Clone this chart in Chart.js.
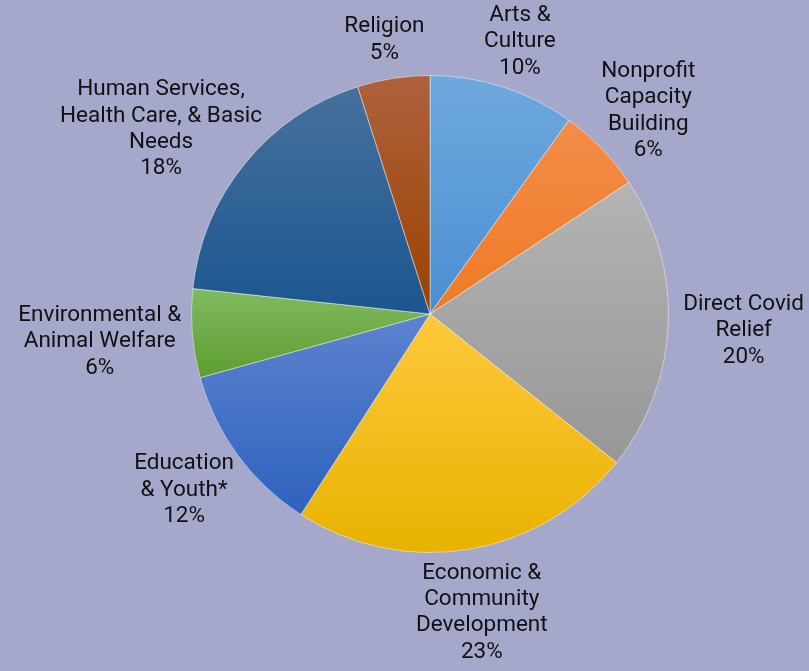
<!DOCTYPE html>
<html>
<head>
<meta charset="utf-8">
<script src="https://cdn.jsdelivr.net/npm/chart.js@4.4.1/dist/chart.umd.min.js"></script>
<style>
  html, body { margin: 0; padding: 0; background: #a5a8ca; }
  #wrap { width: 809px; height: 671px; position: relative; }
</style>
</head>
<body>
<div id="wrap"><canvas id="grantsPie"></canvas></div>
<script>
const categories = [
  'Arts & Culture',
  'Nonprofit Capacity Building',
  'Direct Covid Relief',
  'Economic & Community Development',
  'Education & Youth*',
  'Environmental & Animal Welfare',
  'Human Services, Health Care, & Basic Needs',
  'Religion'
];
// how each category name is wrapped on the chart
const labelLines = [
  ['Arts &', 'Culture'],
  ['Nonprofit', 'Capacity', 'Building'],
  ['Direct Covid', 'Relief'],
  ['Economic &', 'Community', 'Development'],
  ['Education', '& Youth*'],
  ['Environmental &', 'Animal Welfare'],
  ['Human Services,', 'Health Care, & Basic', 'Needs'],
  ['Religion']
];
const shares = [9.9, 5.8, 20.0, 23.4, 11.6, 6.0, 18.4, 4.9];

const topColors = ['#6ea9de', '#f38d4a', '#b4b4b4', '#ffc83c', '#5c83cf', '#80ba5f', '#46719d', '#ad613c'];
const bottomColors = ['#4a8fd3', '#ef7a24', '#979797', '#e8b200', '#2e62bd', '#5e9d31', '#1b5690', '#9c4200'];

// vertical gradient over each slice's own height
function sliceGradient(context) {
  const chart = context.chart;
  const area = chart.chartArea;
  const i = context.dataIndex;
  if (!area || i === undefined) return bottomColors[i || 0];
  const data = chart.data.datasets[0].data;
  const total = data.reduce((a, b) => a + b, 0);
  let before = 0;
  for (let k = 0; k < i; k++) before += data[k];
  const a0 = -Math.PI / 2 + before / total * 2 * Math.PI;
  const a1 = a0 + data[i] / total * 2 * Math.PI;
  const cx = (area.left + area.right) / 2;
  const cy = (area.top + area.bottom) / 2;
  const r = Math.min(area.right - area.left, area.bottom - area.top) / 2;
  const ys = [cy, cy + r * Math.sin(a0), cy + r * Math.sin(a1)];
  [-Math.PI / 2, Math.PI / 2, 3 * Math.PI / 2].forEach(t => {
    if (t > a0 && t < a1) ys.push(cy + r * Math.sin(t));
  });
  const g = chart.ctx.createLinearGradient(0, Math.min(...ys), 0, Math.max(...ys));
  g.addColorStop(0, topColors[i]);
  g.addColorStop(1, bottomColors[i]);
  return g;
}

// category + percent written outside each slice
const outsideLabels = {
  id: 'outsideLabels',
  afterDatasetsDraw(chart) {
    const ctx = chart.ctx;
    const meta = chart.getDatasetMeta(0);
    const data = chart.data.datasets[0].data;
    const total = data.reduce((a, b) => a + b, 0);
    const lh = 26.3;
    ctx.save();
    ctx.font = '22.5px Roboto';
    ctx.fillStyle = '#111111';
    ctx.textAlign = 'center';
    ctx.textBaseline = 'middle';
    meta.data.forEach((arc, i) => {
      const lines = labelLines[i].concat(Math.round(data[i] / total * 100) + '%');
      const w = Math.max(...lines.map(s => ctx.measureText(s).width));
      const h = lines.length * lh;
      const mid = (arc.startAngle + arc.endAngle) / 2;
      const dx = Math.cos(mid), dy = Math.sin(mid);
      const r = arc.outerRadius + 26;
      const x = arc.x + dx * r + dx * 0.82 * w / 2;
      const y = arc.y + dy * r + dy * 0.65 * h / 2 + 4;
      lines.forEach((s, k) => ctx.fillText(s, x, y - h / 2 + lh / 2 + k * lh));
    });
    ctx.restore();
  }
};

new Chart(document.getElementById('grantsPie'), {
  type: 'pie',
  data: {
    labels: categories,
    datasets: [{
      data: shares,
      backgroundColor: sliceGradient,
      borderColor: 'rgba(255,255,255,0.45)',
      borderWidth: 1
    }]
  },
  options: {
    responsive: true,
    maintainAspectRatio: false,
    animation: false,
    layout: { padding: { left: 191, right: 140, top: 75, bottom: 118 } },
    plugins: {
      legend: { display: false },
      tooltip: { enabled: false }
    }
  },
  plugins: [outsideLabels]
});
</script>
</body>
</html>
